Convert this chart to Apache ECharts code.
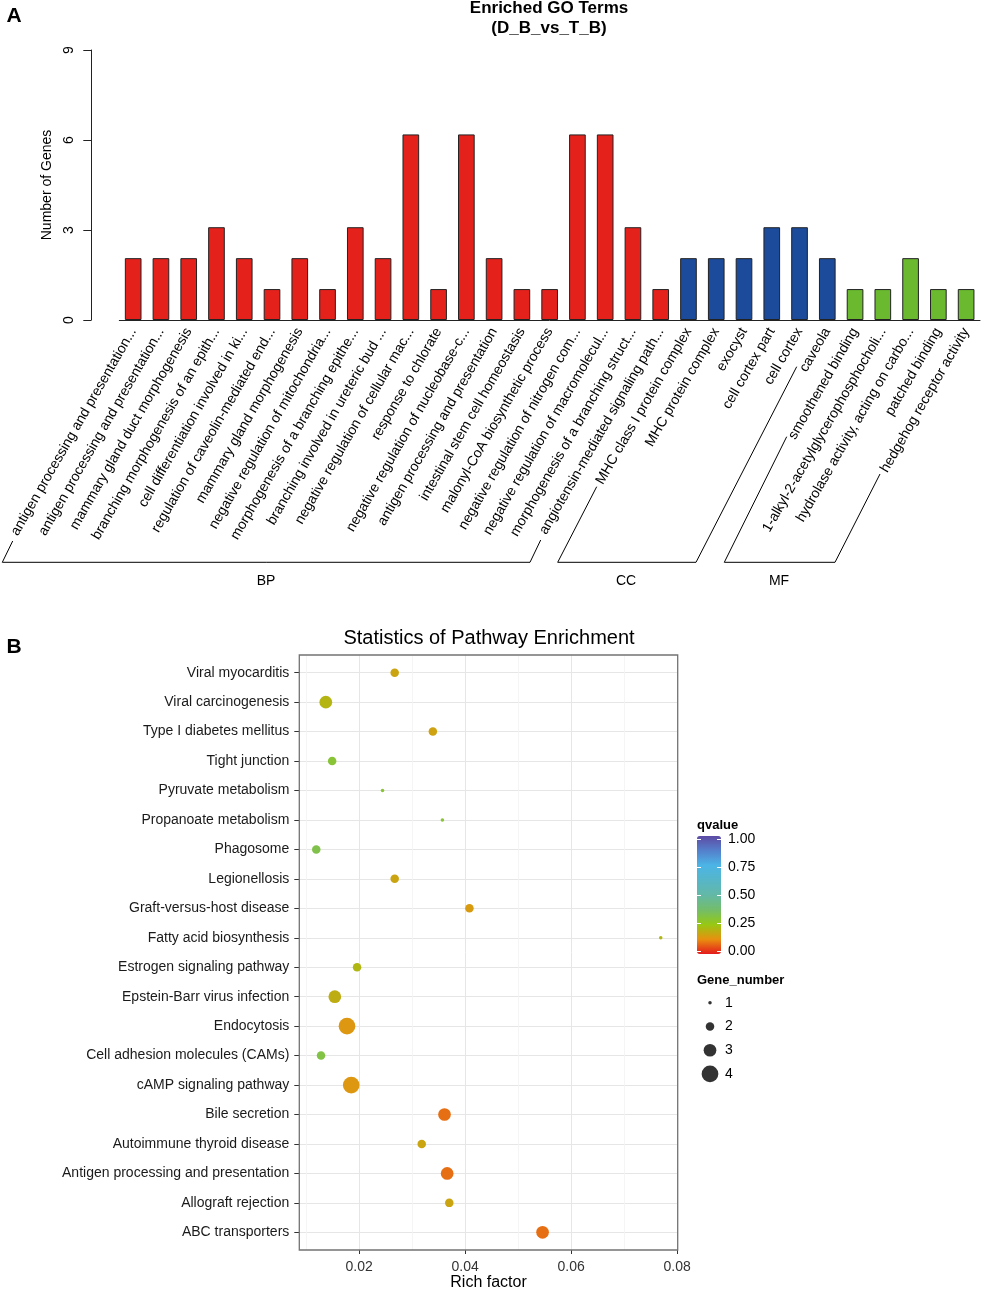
<!DOCTYPE html>
<html><head><meta charset="utf-8">
<script src="https://cdn.jsdelivr.net/npm/echarts@6/dist/echarts.min.js"></script>
<style>html,body{margin:0;padding:0;background:#fff;overflow:hidden}#c{width:982px;height:1290px}</style>
</head><body><div id="c"></div>
<script>
// ---------- Panel A data ----------
const goTerms = [
  'antigen processing and presentation...',
  'antigen processing and presentation...',
  'mammary gland duct morphogenesis',
  'branching morphogenesis of an epith...',
  'cell differentiation involved in ki...',
  'regulation of caveolin-mediated end...',
  'mammary gland morphogenesis',
  'negative regulation of mitochondria...',
  'morphogenesis of a branching epithe...',
  'branching involved in ureteric bud ...',
  'negative regulation of cellular mac...',
  'response to chlorate',
  'negative regulation of nucleobase-c...',
  'antigen processing and presentation',
  'intestinal stem cell homeostasis',
  'malonyl-CoA biosynthetic process',
  'negative regulation of nitrogen com...',
  'negative regulation of macromolecul...',
  'morphogenesis of a branching struct...',
  'angiotensin-mediated signaling path...',
  'MHC class I protein complex',
  'MHC protein complex',
  'exocyst',
  'cell cortex part',
  'cell cortex',
  'caveola',
  'smoothened binding',
  '1-alkyl-2-acetylglycerophosphocholi...',
  'hydrolase activity, acting on carbo...',
  'patched binding',
  'hedgehog receptor activity'
];
const goGenes = [2,2,2,3,2,1,2,1,3,2,6,1,6,2,1,1,6,6,3,1, 2,2,2,3,3,2, 1,1,2,1,1];
const goGroups = ['BP','BP','BP','BP','BP','BP','BP','BP','BP','BP','BP','BP','BP','BP','BP','BP','BP','BP','BP','BP',
                  'CC','CC','CC','CC','CC','CC', 'MF','MF','MF','MF','MF'];
const groupNames = ['BP','CC','MF'];
const countTicks = [0,3,6,9];

// ---------- Panel B data ----------
const pathways = [
  'Viral myocarditis','Viral carcinogenesis','Type I diabetes mellitus','Tight junction',
  'Pyruvate metabolism','Propanoate metabolism','Phagosome','Legionellosis',
  'Graft-versus-host disease','Fatty acid biosynthesis','Estrogen signaling pathway',
  'Epstein-Barr virus infection','Endocytosis','Cell adhesion molecules (CAMs)',
  'cAMP signaling pathway','Bile secretion','Autoimmune thyroid disease',
  'Antigen processing and presentation','Allograft rejection','ABC transporters'
];
const richFactor = [0.0267,0.0137,0.0339,0.0149,0.0244,0.0357,0.0119,0.0267,0.0408,0.0769,
                    0.0196,0.0154,0.0177,0.0128,0.0185,0.0361,0.0318,0.0366,0.0370,0.0546];
const geneNumber = [2,3,2,2,1,1,2,2,2,1, 2,3,4,2,4,3,2,3,2,3];
const qValue = [0.17,0.205,0.165,0.30,0.30,0.30,0.33,0.17,0.15,0.21,
                0.21,0.19,0.14,0.32,0.14,0.09,0.17,0.09,0.17,0.09];
const richTicks = [0.02,0.04,0.06,0.08];
const richMinorTicks = [0.01,0.03,0.05,0.07];
const qTicks = [0,0.25,0.5,0.75,1];
const sizeLevels = [1,2,3,4];

// ---------- styles ----------
const FONT = '"Liberation Sans", Arial, Helvetica, sans-serif';
const groupColors = {BP:'#e5211c', CC:'#1c4b9b', MF:'#6ab92f'};
const dotDiam = {1:3.5, 2:8.5, 3:12.7, 4:16.7};
const qColors = ['#e41a1c','#e8900f','#96c814','#73bd6a','#63b8a6','#56b6c8','#4cb5e6','#5480cc','#5d4ba4'];

const chart = echarts.init(document.getElementById('c'), null, {renderer:'canvas', width:982, height:1290});

const barData = goGenes.map((v,i)=>({value:v, itemStyle:{color:groupColors[goGroups[i]]}}));
const scatterData = pathways.map((p,i)=>[richFactor[i], i, geneNumber[i], qValue[i]]);
const legendDots = sizeLevels.map(s=>[0.5, String(s), s]);
const pathIdx = pathways.map((_,i)=>i);

function txt(x,y,text,opt){
  return Object.assign({type:'text', x:x, y:y, silent:true,
    style:Object.assign({text:text, fontFamily:FONT, fontSize:14, fill:'#000', align:'center', verticalAlign:'middle'}, opt||{})});
}
function pl(points){
  return {type:'polyline', silent:true, shape:{points:points}, style:{stroke:'#000', lineWidth:1, fill:null}};
}

const option = {
  animation:false,
  backgroundColor:'#fff',
  textStyle:{fontFamily:FONT},
  grid:[
    {left:119.3, width:860.7, top:50, height:270, outerBoundsMode:'none', containLabel:false},
    {left:299.3, width:378.4, top:655, height:595, outerBoundsMode:'none', containLabel:false,
     show:true, borderColor:'#737373', borderWidth:1.3, backgroundColor:'transparent', z:3},
    {left:697, top:839, width:24, height:112, outerBoundsMode:'none'},
    {left:697, top:991, width:26, height:94.8, outerBoundsMode:'none'}
  ],
  xAxis:[
    {type:'category', gridIndex:0, data:goTerms, boundaryGap:true,
     axisLine:{onZero:false, lineStyle:{color:'#222', width:1}},
     axisTick:{length:8, lineStyle:{color:'#222'}},
     axisLabel:{rotate:60, interval:0, fontSize:14, color:'#000', margin:9, fontFamily:FONT}},
    {type:'value', gridIndex:1, min:0.0087, max:0.0801, position:'bottom',
     name:'Rich factor', nameLocation:'middle', nameGap:24, nameTextStyle:{fontSize:16, color:'#000', fontFamily:FONT},
     axisLine:{show:false, onZero:false},
     axisTick:{show:true, length:4, lineStyle:{color:'#333'}, customValues:richTicks},
     axisLabel:{customValues:richTicks, fontSize:14, color:'#333', margin:10, formatter:v=>v.toFixed(2)},
     splitLine:{show:true, lineStyle:{color:'#e6e6e6', width:1}}},
    {type:'value', gridIndex:1, min:0.0087, max:0.0801, position:'top',
     axisLine:{show:false, onZero:false}, axisTick:{show:false, customValues:richMinorTicks},
     axisLabel:{show:false, customValues:richMinorTicks},
     splitLine:{show:true, lineStyle:{color:'#f2f2f2', width:0.8}}},
    {type:'value', gridIndex:2, show:false, min:0, max:1},
    {type:'value', gridIndex:3, show:false, min:0, max:1}
  ],
  yAxis:[
    {type:'value', gridIndex:0, min:0, max:9, interval:3, offset:28,
     name:'Number of Genes', nameLocation:'middle', nameRotate:90, nameGap:28,
     nameTextStyle:{fontSize:14, color:'#000', fontFamily:FONT},
     axisLine:{show:true, onZero:false, lineStyle:{color:'#222'}},
     axisTick:{show:true, length:8, lineStyle:{color:'#222'}},
     axisLabel:{rotate:90, fontSize:14, color:'#000', margin:15},
     splitLine:{show:false}},
    {type:'value', gridIndex:0, min:0, max:8.73, show:false, splitLine:{show:false}},
    {type:'value', gridIndex:1, inverse:true, min:-0.6, max:19.6,
     axisLine:{show:false, onZero:false},
     axisTick:{show:true, length:5, lineStyle:{color:'#333'}, customValues:pathIdx},
     axisLabel:{customValues:pathIdx, fontSize:14, color:'#1a1a1a', margin:10, formatter:v=>pathways[Math.round(v)]},
     splitLine:{show:true, lineStyle:{color:'#e6e6e6', width:1}}},
    {type:'value', gridIndex:2, min:0, max:1, interval:0.25, position:'right', z:10,
     axisLine:{show:false, onZero:false},
     axisTick:{show:true, inside:true, length:4, lineStyle:{color:'#fff', width:1}},
     axisLabel:{fontSize:14, color:'#000', margin:7, formatter:v=>v.toFixed(2)},
     splitLine:{show:false}},
    {type:'value', gridIndex:2, min:0, max:1, interval:0.25, position:'left', z:10,
     axisLine:{show:false, onZero:false},
     axisTick:{show:true, inside:true, length:4, lineStyle:{color:'#fff', width:1}},
     axisLabel:{show:false}, splitLine:{show:false}},
    {type:'category', gridIndex:3, data:sizeLevels.map(String), inverse:true, position:'right',
     axisLine:{show:false}, axisTick:{show:false},
     axisLabel:{fontSize:14, color:'#000', margin:2}}
  ],
  visualMap:[{
    type:'continuous', min:0, max:1, dimension:3, seriesIndex:1,
    inRange:{color:qColors}, show:true, left:697, top:836, itemWidth:24, itemHeight:118,
    padding:0, calculable:false, text:null, showLabel:false, hoverLink:false,
    textStyle:{color:'transparent'}
  }],
  series:[
    {type:'bar', xAxisIndex:0, yAxisIndex:1, data:barData, barCategoryGap:'40%',
     itemStyle:{borderColor:'#222', borderWidth:1}},
    {type:'scatter', xAxisIndex:1, yAxisIndex:2, data:scatterData, z:5,
     symbolSize:v=>dotDiam[v[2]], itemStyle:{opacity:1}},
    {type:'scatter', xAxisIndex:4, yAxisIndex:5, data:legendDots,
     symbolSize:v=>dotDiam[v[2]], itemStyle:{color:'#000'}}
  ],
  graphic:[
    txt(14,16,'A',{fontSize:21, fontWeight:'bold'}),
    txt(14,647,'B',{fontSize:21, fontWeight:'bold'}),
    txt(549,8,'Enriched GO Terms',{fontSize:17, fontWeight:'bold'}),
    txt(549,28,'(D_B_vs_T_B)',{fontSize:17, fontWeight:'bold'}),
    pl([[12.7,541],[2.3,562.3],[530,562.3],[540.7,540]]),
    pl([[596.7,486.7],[557.7,562.3],[696,562.3],[796.7,366.7]]),
    pl([[786.7,436.7],[724.3,562.3],[835,562.3],[880,474]]),
    txt(266,581,groupNames[0],{fontSize:14}),
    txt(626,581,groupNames[1],{fontSize:14}),
    txt(779,581,groupNames[2],{fontSize:14}),
    txt(489,638,'Statistics of Pathway Enrichment',{fontSize:20}),
    txt(697,825,'qvalue',{fontSize:13, fontWeight:'bold', align:'left'}),
    txt(697,980,'Gene_number',{fontSize:13, fontWeight:'bold', align:'left'})
  ]
};
chart.setOption(option);
</script>
</body></html>
